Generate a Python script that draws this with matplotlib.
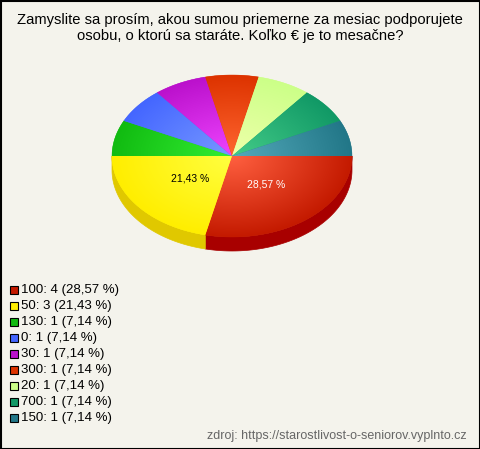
import numpy as np
import matplotlib.pyplot as plt
from matplotlib.patches import Polygon, Rectangle

TITLE = ('Zamyslite sa prosím, akou sumou priemerne za mesiac podporujete\n'
         'osobu, o ktorú sa staráte. Koľko € je to mesačne?')
SOURCE = 'zdroj: https://starostlivost-o-seniorov.vyplnto.cz'

labels = ['100', '50', '130', '0', '30', '300', '20', '700', '150']
counts = [4, 3, 1, 1, 1, 1, 1, 1, 1]
colors = ['#c41a00', '#ffee00', '#11bb11', '#4466ff', '#bb11cc',
          '#dd3300', '#ccff88', '#119966', '#227788']
light = ['#ff6040', '#ffff40', '#33ee33', '#7799ff', '#ee44ff',
         '#ff6630', '#eeffaa', '#44cc88', '#55aabb']
side = ['#a80000', '#e0c800', '#0e9a0e', '#3355cc', '#9a10aa',
        '#b02800', '#a8d870', '#0c7a50', '#1a6070']

BG = '#f4f3ec'
W, H = 480, 449
cx, cy, rx, ry, depth = 232, 156, 120, 81, 14


def hex2rgb(h):
    return np.array([int(h[i:i + 2], 16) / 255 for i in (1, 3, 5)])


fig = plt.figure(figsize=(W / 100, H / 100), dpi=100)
fig.patch.set_facecolor(BG)
ax = fig.add_axes([0, 0, 1, 1])
ax.set_xlim(0, W)
ax.set_ylim(H, 0)
ax.axis('off')
ax.add_patch(Rectangle((0.5, 0.5), W - 1, H - 1, fill=False,
                       edgecolor='black', lw=1.5))

total = sum(counts)
fracs = [c / total for c in counts]
bounds = np.concatenate([[0], np.cumsum(fracs) * 360])


def arc(t0, t1, dy=0, n=80):
    t = np.radians(np.linspace(t0, t1, n))
    return np.column_stack([cx + rx * np.cos(t), cy + ry * np.sin(t) + dy])


# side walls (front half only)
for i in range(len(counts)):
    t0, t1 = max(bounds[i], 0), min(bounds[i + 1], 180)
    if t1 <= t0:
        continue
    pts = np.vstack([arc(t0, t1), arc(t1, t0, depth)])
    ax.add_patch(Polygon(pts, closed=True, facecolor=side[i],
                         edgecolor=side[i], lw=0.5))

# gradient image for tops
xs = np.linspace(cx - rx, cx + rx, 240)
ys = np.linspace(cy - ry, cy + ry, 162)
gx, gy = np.meshgrid(xs, ys)
rr = np.clip(np.hypot((gx - cx) / rx, (gy - cy) / ry), 0, 1)[..., None]

for i in range(len(counts)):
    t0, t1 = bounds[i], bounds[i + 1]
    pts = np.vstack([[cx, cy], arc(t0, t1)])
    poly = Polygon(pts, closed=True, facecolor=colors[i],
                   edgecolor=colors[i], lw=0.3)
    ax.add_patch(poly)
    img = hex2rgb(light[i]) * (1 - rr) + hex2rgb(colors[i]) * rr
    im = ax.imshow(img, extent=(cx - rx, cx + rx, cy + ry, cy - ry),
                   interpolation='bilinear', zorder=2)
    im.set_clip_path(poly)

# percentage labels on big slices
for i in range(len(counts)):
    if fracs[i] < 0.1:
        continue
    mid = np.radians((bounds[i] + bounds[i + 1]) / 2)
    lx = cx + rx * 0.45 * np.cos(mid)
    ly = cy + ry * 0.45 * np.sin(mid)
    txt = f'{fracs[i] * 100:.2f} %'.replace('.', ',')
    ax.text(lx, ly, txt, ha='center', va='center', fontsize=7.5,
            color='white' if i == 0 else 'black', zorder=5,
            family='Liberation Sans')

ax.text(W / 2, 28, TITLE, ha='center', va='center', fontsize=10.6,
        family='Liberation Sans', linespacing=1.1)

# legend
for i, (lab, c) in enumerate(zip(labels, counts)):
    y = 290 + i * 16
    ax.add_patch(Rectangle((9.5, y - 4), 8, 8, facecolor=colors[i],
                           edgecolor='black', lw=0.8, zorder=3))
    pct = f'{fracs[i] * 100:.2f}'.replace('.', ',')
    ax.text(21, y, f'{lab}: {c} ({pct} %)', va='center', ha='left',
            fontsize=9.5, family='Liberation Sans')

ax.text(467, 436, SOURCE, ha='right', va='center', fontsize=9,
        color='#666666', family='Liberation Sans')

fig.savefig('out.png', dpi=100, facecolor=BG)
